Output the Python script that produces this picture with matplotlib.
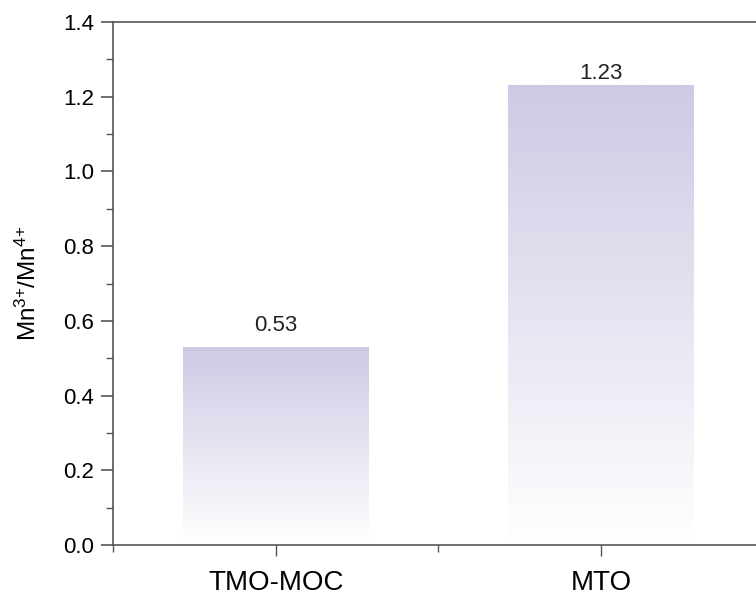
import numpy as np
import matplotlib.pyplot as plt
from matplotlib.colors import LinearSegmentedColormap
from matplotlib.ticker import MultipleLocator, FixedLocator

plt.rcParams['font.family'] = ['Liberation Sans', 'DejaVu Sans']
plt.rcParams['mathtext.fontset'] = 'custom'
plt.rcParams['mathtext.rm'] = 'Liberation Sans'
plt.rcParams['mathtext.it'] = 'Liberation Sans'

samples = ['TMO-MOC', 'MTO']
ratio = [0.53, 1.23]
value_labels = ['0.53', '1.23']

axis_col = '#555555'
bar_w = 0.57
label_gap = [0.043, 0.017]   # baseline offset of each value label above its bar
grad = LinearSegmentedColormap.from_list('lav', ['#ffffff', '#cdcae4'])

fig = plt.figure(figsize=(7.56, 5.95), dpi=100)
ax = fig.add_axes([0.150, 0.084, 0.86, 0.879])

x = np.arange(len(samples))
# vertical fade, white at the base up to lavender at the top of each bar
ramp = np.linspace(0, 1, 256).reshape(-1, 1)
for xi, v, lab, g in zip(x, ratio, value_labels, label_gap):
    ax.imshow(ramp, cmap=grad, origin='lower', aspect='auto',
              extent=[xi - bar_w / 2, xi + bar_w / 2, 0, v], zorder=1)
    ax.text(xi, v + g, lab, ha='center', va='baseline', fontsize=16,
            color='#222222')

ax.set_xlim(-0.5, 1.5)
ax.set_ylim(0, 1.4)
ax.set_xticks(x)
ax.set_xticklabels(samples, fontsize=20)
ax.xaxis.set_minor_locator(FixedLocator([-0.5, 0.5, 1.5]))
ax.yaxis.set_major_locator(MultipleLocator(0.2))
ax.yaxis.set_minor_locator(MultipleLocator(0.1))
ax.yaxis.set_major_formatter(plt.FuncFormatter(lambda v, p: '%.1f' % v))
ax.tick_params(axis='y', which='major', length=9, width=1.2, color=axis_col,
               labelsize=16, pad=5)
ax.tick_params(axis='y', which='minor', length=5, width=1.0, color=axis_col)
ax.tick_params(axis='x', which='major', length=8, width=1.0, color=axis_col,
               pad=10)
ax.tick_params(axis='x', which='minor', length=5, width=1.0, color=axis_col)
for s in ax.spines.values():
    s.set_color(axis_col)
    s.set_linewidth(1.2)

ax.set_ylabel(r'Mn$^{3\text{+}}$/Mn$^{4\text{+}}$', fontsize=17.5, labelpad=16)

plt.savefig('out.png', dpi=100)
